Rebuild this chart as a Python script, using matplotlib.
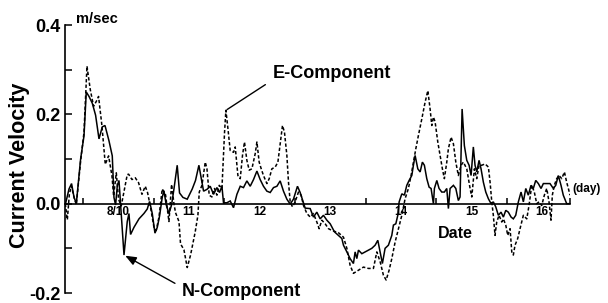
import numpy as np
import matplotlib
matplotlib.use("Agg")
import matplotlib.pyplot as plt

# ---- data (day of month, m/sec) ----
n_day = [9.246, 9.303, 9.339, 9.373, 9.406, 9.467, 9.515, 9.547, 9.586, 9.632,
         9.679, 9.727, 9.774, 9.812, 9.868, 9.915, 9.939, 9.962, 9.986, 10.010,
         10.033, 10.081, 10.127, 10.151, 10.174, 10.222, 10.293, 10.363, 10.410, 10.443,
         10.481, 10.519, 10.552, 10.584, 10.622, 10.646, 10.679, 10.717, 10.754, 10.788,
         10.834, 10.867, 10.915, 10.976, 11.047, 11.093, 11.141, 11.207, 11.255, 11.301,
         11.348, 11.396, 11.433, 11.467, 11.489, 11.537, 11.584, 11.631, 11.679, 11.726,
         11.772, 11.820, 11.867, 11.914, 11.962, 12.008, 12.055, 12.103, 12.150, 12.197,
         12.245, 12.291, 12.338, 12.386, 12.433, 12.479, 12.536, 12.574, 12.645, 12.716,
         12.762, 12.810, 12.857, 12.904, 12.952, 12.999, 13.059, 13.116, 13.164, 13.187,
         13.235, 13.281, 13.328, 13.352, 13.376, 13.399, 13.447, 13.494, 13.540, 13.588,
         13.635, 13.673, 13.706, 13.738, 13.776, 13.823, 13.871, 13.894, 13.928, 13.956,
         13.975, 14.013, 14.049, 14.083, 14.116, 14.154, 14.177, 14.201, 14.239, 14.272,
         14.304, 14.332, 14.366, 14.399, 14.427, 14.460, 14.474, 14.508, 14.540, 14.578,
         14.615, 14.649, 14.672, 14.696, 14.743, 14.777, 14.813, 14.837, 14.866, 14.898,
         14.932, 14.965, 14.993, 15.025, 15.049, 15.073, 15.106, 15.134, 15.167, 15.201,
         15.238, 15.276, 15.308, 15.342, 15.379, 15.417, 15.450, 15.484, 15.520, 15.559,
         15.591, 15.625, 15.662, 15.700, 15.733, 15.767, 15.803, 15.841, 15.874, 15.908,
         15.945, 15.983, 16.016, 16.064, 16.110, 16.157, 16.191, 16.228, 16.266, 16.298,
         16.346, 16.393]
n_vel = [-0.005, 0.033, 0.045, 0.015, 0.000, 0.100, 0.152, 0.250, 0.240, 0.225,
         0.198, 0.145, 0.172, 0.175, 0.141, 0.107, 0.014, -0.003, 0.040, 0.052,
         -0.003, -0.115, -0.040, -0.022, -0.069, -0.053, -0.034, -0.022, -0.012, 0.005,
         -0.022, -0.066, -0.053, -0.028, 0.014, 0.029, -0.003, -0.022, -0.003, 0.033,
         0.086, 0.024, 0.014, 0.010, 0.033, 0.052, 0.086, 0.028, 0.032, 0.039,
         0.021, 0.036, 0.025, 0.039, 0.002, 0.002, 0.006, -0.009, 0.021, 0.039,
         0.036, 0.051, 0.039, 0.054, 0.073, 0.054, 0.039, 0.028, 0.025, 0.036,
         0.039, 0.051, 0.028, 0.010, -0.001, 0.010, 0.039, 0.025, -0.010, -0.011,
         -0.030, -0.019, -0.034, -0.026, -0.037, -0.045, -0.063, -0.071, -0.078, -0.093,
         -0.108, -0.123, -0.134, -0.108, -0.123, -0.104, -0.112, -0.108, -0.104, -0.100,
         -0.093, -0.082, -0.108, -0.134, -0.100, -0.093, -0.071, -0.048, -0.045, -0.026,
         0.004, 0.022, 0.019, 0.041, 0.052, 0.063, 0.086, 0.108, 0.078, 0.071,
         0.093, 0.086, 0.056, 0.037, 0.034, 0.000, 0.034, 0.052, 0.034, 0.026,
         0.026, 0.034, -0.011, 0.034, 0.041, 0.034, 0.007, 0.015, 0.212, 0.130,
         0.097, 0.086, 0.063, 0.127, 0.086, 0.071, 0.097, 0.078, 0.048, 0.026,
         0.011, 0.000, 0.004, -0.007, -0.026, -0.019, -0.030, -0.015, -0.019, -0.030,
         -0.034, -0.026, 0.004, 0.026, 0.004, 0.034, 0.019, 0.041, 0.034, 0.052,
         0.045, 0.034, 0.045, 0.045, 0.045, 0.034, 0.041, 0.063, 0.041, 0.019,
         0.000, 0.000]

e_day = [9.250, 9.279, 9.307, 9.335, 9.378, 9.406, 9.467, 9.515, 9.557, 9.604,
         9.651, 9.699, 9.721, 9.769, 9.816, 9.863, 9.911, 9.934, 9.972, 10.004,
         10.042, 10.085, 10.127, 10.146, 10.194, 10.240, 10.287, 10.335, 10.382, 10.414,
         10.453, 10.505, 10.537, 10.576, 10.622, 10.669, 10.717, 10.754, 10.788, 10.810,
         10.859, 10.881, 10.929, 10.976, 11.023, 11.071, 11.089, 11.127, 11.146, 11.184,
         11.231, 11.255, 11.287, 11.325, 11.362, 11.396, 11.429, 11.467, 11.504, 11.523,
         11.552, 11.584, 11.631, 11.655, 11.693, 11.726, 11.758, 11.786, 11.820, 11.853,
         11.891, 11.938, 11.962, 11.994, 12.023, 12.055, 12.103, 12.136, 12.174, 12.221,
         12.259, 12.291, 12.324, 12.352, 12.386, 12.409, 12.433, 12.465, 12.503, 12.550,
         12.588, 12.621, 12.669, 12.716, 12.762, 12.810, 12.843, 12.881, 12.928, 12.975,
         13.023, 13.116, 13.187, 13.235, 13.281, 13.328, 13.399, 13.470, 13.540, 13.611,
         13.659, 13.706, 13.752, 13.791, 13.833, 13.871, 13.918, 13.965, 14.013, 14.059,
         14.106, 14.144, 14.177, 14.211, 14.248, 14.296, 14.342, 14.381, 14.413, 14.437,
         14.460, 14.484, 14.522, 14.554, 14.587, 14.615, 14.649, 14.672, 14.710, 14.743,
         14.777, 14.813, 14.851, 14.884, 14.932, 14.979, 15.003, 15.040, 15.073, 15.106,
         15.144, 15.191, 15.238, 15.262, 15.286, 15.308, 15.332, 15.356, 15.389, 15.427,
         15.450, 15.484, 15.512, 15.545, 15.569, 15.591, 15.615, 15.653, 15.686, 15.733,
         15.781, 15.813, 15.851, 15.888, 15.922, 15.955, 15.993, 16.030, 16.064, 16.096,
         16.124, 16.143, 16.171, 16.205, 16.238, 16.276, 16.314, 16.346, 16.370, 16.393]
e_vel = [0.000, -0.036, 0.020, 0.040, 0.012, -0.002, 0.095, 0.160, 0.308, 0.255,
         0.218, 0.232, 0.240, 0.174, 0.088, 0.107, 0.062, 0.017, 0.069, 0.010,
         -0.005, 0.030, 0.065, 0.066, 0.054, 0.058, 0.047, 0.021, 0.039, 0.025,
         -0.005, -0.053, -0.060, -0.030, 0.033, 0.020, -0.040, 0.043, 0.000, -0.020,
         -0.040, -0.090, -0.103, -0.143, -0.115, -0.078, -0.063, -0.026, 0.026, 0.041,
         0.093, 0.078, 0.019, 0.015, 0.034, 0.019, 0.041, 0.034, 0.160, 0.209,
         0.168, 0.119, 0.115, 0.127, 0.063, 0.056, 0.108, 0.138, 0.097, 0.075,
         0.078, 0.112, 0.138, 0.093, 0.078, 0.063, 0.045, 0.056, 0.078, 0.082,
         0.093, 0.134, 0.175, 0.160, 0.108, 0.048, 0.004, -0.007, 0.004, 0.026,
         0.019, -0.004, -0.022, -0.030, -0.022, -0.041, -0.056, -0.037, -0.045, -0.056,
         -0.060, -0.065, -0.075, -0.100, -0.138, -0.156, -0.149, -0.142, -0.145, -0.145,
         -0.108, -0.130, -0.160, -0.171, -0.149, -0.123, -0.086, -0.056, -0.026, 0.011,
         0.034, 0.063, 0.093, 0.123, 0.153, 0.190, 0.227, 0.253, 0.212, 0.175,
         0.194, 0.183, 0.138, 0.108, 0.078, 0.056, 0.093, 0.123, 0.149, 0.134,
         0.093, 0.063, 0.086, 0.093, 0.078, 0.034, 0.015, 0.078, 0.056, 0.086,
         0.086, 0.089, 0.082, 0.048, 0.004, -0.026, -0.071, -0.041, -0.026, -0.041,
         -0.034, -0.048, -0.071, -0.056, -0.108, -0.115, -0.093, -0.078, -0.056, -0.026,
         -0.034, -0.004, 0.041, 0.026, 0.000, 0.004, -0.004, 0.019, 0.034, 0.004,
         -0.037, 0.019, 0.041, 0.056, 0.063, 0.056, 0.071, 0.048, 0.034, 0.019]

day_ticks = [10, 11, 12, 13, 14, 15, 16]
day_labels = ["8/10", "11", "12", "13", "14", "15", "16"]
half_day_ticks = [9.5, 10.5, 11.5, 12.5, 13.5, 14.5, 15.5]
vel_major = [-0.2, 0.0, 0.2, 0.4]
vel_labels = ["-0.2", "0.0", "0.2", "0.4"]
vel_minor = [-0.1, 0.1, 0.3]

FONT = "Liberation Sans"

W, H, DPI = 608, 303, 100
fig = plt.figure(figsize=(W / DPI, H / DPI), dpi=DPI)
ax = fig.add_axes([65 / W, (H - 293) / H, 505 / W, 268 / H])

ax.plot(n_day, n_vel, color="black", lw=1.1, solid_joinstyle="miter")
ax.plot(e_day, e_vel, color="black", lw=1.1, linestyle=(0, (2.2, 1.4)))

ax.set_xlim(n_day[0], n_day[-1])
ax.set_ylim(-0.2, 0.4)

for s in ("top", "right"):
    ax.spines[s].set_visible(False)
ax.spines["left"].set_linewidth(1.2)
ax.spines["bottom"].set_position(("data", 0))
ax.spines["bottom"].set_linewidth(1.2)

ax.set_xticks(day_ticks)
ax.set_xticklabels(day_labels, fontfamily=FONT, fontweight="bold", fontsize=8.5)
ax.set_xticks(half_day_ticks + [n_day[-1]], minor=True)
ax.tick_params(axis="x", which="major", length=0, pad=2)
ax.tick_params(axis="x", which="minor", direction="in", length=4.5, width=1.1)

ax.set_yticks(vel_major)
ax.set_yticklabels(vel_labels, fontfamily=FONT, fontweight="bold", fontsize=13)
ax.set_yticks(vel_minor, minor=True)
ax.tick_params(axis="y", which="both", direction="in", length=5, width=1.1, pad=3)

fig.text(20 / W, 1 - 165 / H, "Current Velocity", rotation=90, ha="center",
         va="center", fontfamily=FONT, fontweight="bold", fontsize=15.5)
fig.text(97 / W, 1 - 19 / H, "m/sec", ha="center", va="center",
         fontfamily=FONT, fontweight="bold", fontsize=10.5)
fig.text(455 / W, 1 - 233 / H, "Date", ha="center", va="center",
         fontfamily=FONT, fontweight="bold", fontsize=11.5)
fig.text(587 / W, 1 - 189 / H, "(day)", ha="center", va="center",
         fontfamily=FONT, fontweight="bold", fontsize=8.5)

e_arr = np.array(e_vel)
n_arr = np.array(n_vel)
i_e = int(np.argmax(np.where((np.array(e_day) > 11) & (np.array(e_day) < 12), e_arr, -1)))
i_n = int(np.argmin(np.where(np.array(n_day) < 10.5, n_arr, 1)))

ax.annotate("E-Component", xy=(e_day[i_e], e_vel[i_e]),
            xytext=(332, H - 73), textcoords="figure pixels",
            ha="center", va="center", fontfamily=FONT, fontweight="bold", fontsize=13,
            arrowprops=dict(arrowstyle="-", color="black", lw=1.0,
                            relpos=(0, 0.1), shrinkA=4, shrinkB=1))
ax.annotate("N-Component", xy=(n_day[i_n], n_vel[i_n]),
            xytext=(241, H - 292), textcoords="figure pixels",
            ha="center", va="center", fontfamily=FONT, fontweight="bold", fontsize=13,
            arrowprops=dict(arrowstyle="-|>,head_length=0.5,head_width=0.2",
                            color="black", lw=1.0, relpos=(0, 0.8),
                            shrinkA=3, shrinkB=1))

fig.savefig("out.png", dpi=DPI)
